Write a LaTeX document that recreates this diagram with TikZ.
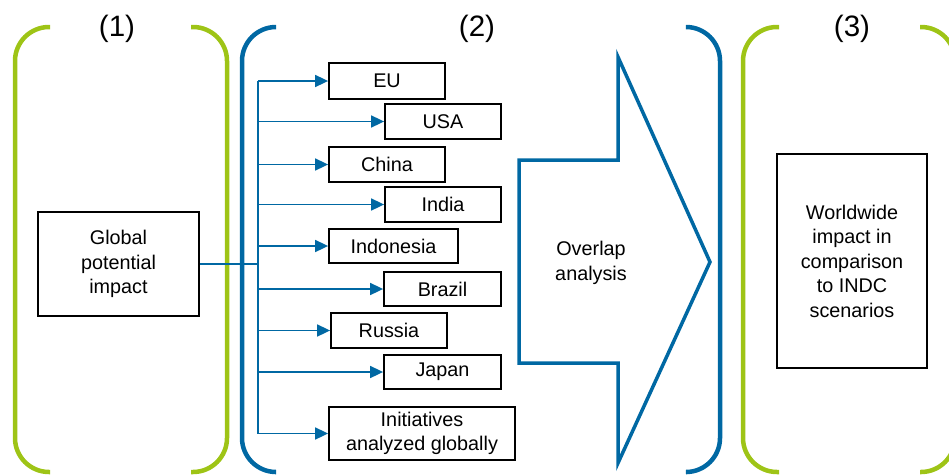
\documentclass[tikz,border=0pt]{standalone}
\usepackage{fontspec}
\setmainfont{Liberation Sans}
\usetikzlibrary{arrows.meta}
\definecolor{brgreen}{RGB}{158,196,22}
\definecolor{brblue}{RGB}{0,104,163}
\begin{document}
\begin{tikzpicture}[x=1pt,y=-1pt,
  box/.style={draw=black,line width=1.8pt,inner sep=0pt,align=center,font=\fontsize{19.8}{24.5}\selectfont},
  brk/.style={line width=4.5pt,rounded corners=34pt},
  feed/.style={draw=brblue,line width=1.7pt,-{Triangle[length=13pt,width=12pt]}},
  lbl/.style={anchor=base,font=\fontsize{29.5}{31}\selectfont}]
\useasboundingbox (0,0) rectangle (949,474);
% brackets
\draw[brk,brgreen] (50,27) -- (15,27) -- (15,472) -- (50,472);
\draw[brk,brgreen] (191,27) -- (227,27) -- (227,472) -- (191,472);
\draw[brk,brblue] (275,27) -- (242,27) -- (242,472) -- (275,472);
\draw[brk,brblue] (687,27) -- (720,27) -- (720,472) -- (687,472);
\draw[brk,brgreen] (779,27) -- (743,27) -- (743,472) -- (779,472);
\draw[brk,brgreen] (920,27) -- (955,27) -- (955,472) -- (920,472);
% labels
\node[lbl] (l1) at (117,36) {(1)};
\node[lbl] (l2) at (477,36) {(2)};
\node[lbl] (l3) at (852,36) {(3)};
% big arrow
\draw[brblue,line width=3.5pt] (519,160) -- (618,160) -- (618,57) -- (710,262) -- (618,463) -- (618,363) -- (519,363) -- cycle;
\node[align=center,font=\fontsize{19.8}{24.5}\selectfont] (ov) at (591,263) {Overlap\\analysis};
% boxes
\node[box,minimum width=161pt,minimum height=104pt] (glob) at (118.5,264) {Global\\potential\\impact};
\node[box,minimum width=150pt,minimum height=214pt] (world) at (852,261) {Worldwide\\impact in\\comparison\\to INDC\\scenarios};
\node[box,minimum width=116pt,minimum height=36pt] (eu) at (387,81) {EU};
\node[box,minimum width=116pt,minimum height=35pt] (usa) at (443,121.5) {USA};
\node[box,minimum width=116pt,minimum height=35pt] (china) at (387,164.5) {China};
\node[box,minimum width=116pt,minimum height=35pt] (india) at (443,204.5) {India};
\node[box,minimum width=129pt,minimum height=34pt] (indo) at (393.5,246) {Indonesia};
\node[box,minimum width=117pt,minimum height=34pt] (brazil) at (442.5,289) {Brazil};
\node[box,minimum width=116pt,minimum height=35pt] (russia) at (389,330.5) {Russia};
\node[box,minimum width=117pt,minimum height=34pt] (japan) at (442.5,372) {Japan};
\node[box,minimum width=186pt,minimum height=53pt] (init) at (422,433.5) {Initiatives\\analyzed globally};
% connectors
\coordinate (ttop) at (258,81);
\coordinate (tbot) at (258,433.5);
\draw[brblue,line width=1.3pt] (glob.east) -- (glob.east -| ttop);
\draw[brblue,line width=1.6pt] (ttop) -- (tbot);
\foreach \b in {eu,usa,china,india,indo,brazil,russia,japan,init}{
  \draw[feed] (\b.west -| ttop) -- (\b.west);
}
\end{tikzpicture}
\end{document}
